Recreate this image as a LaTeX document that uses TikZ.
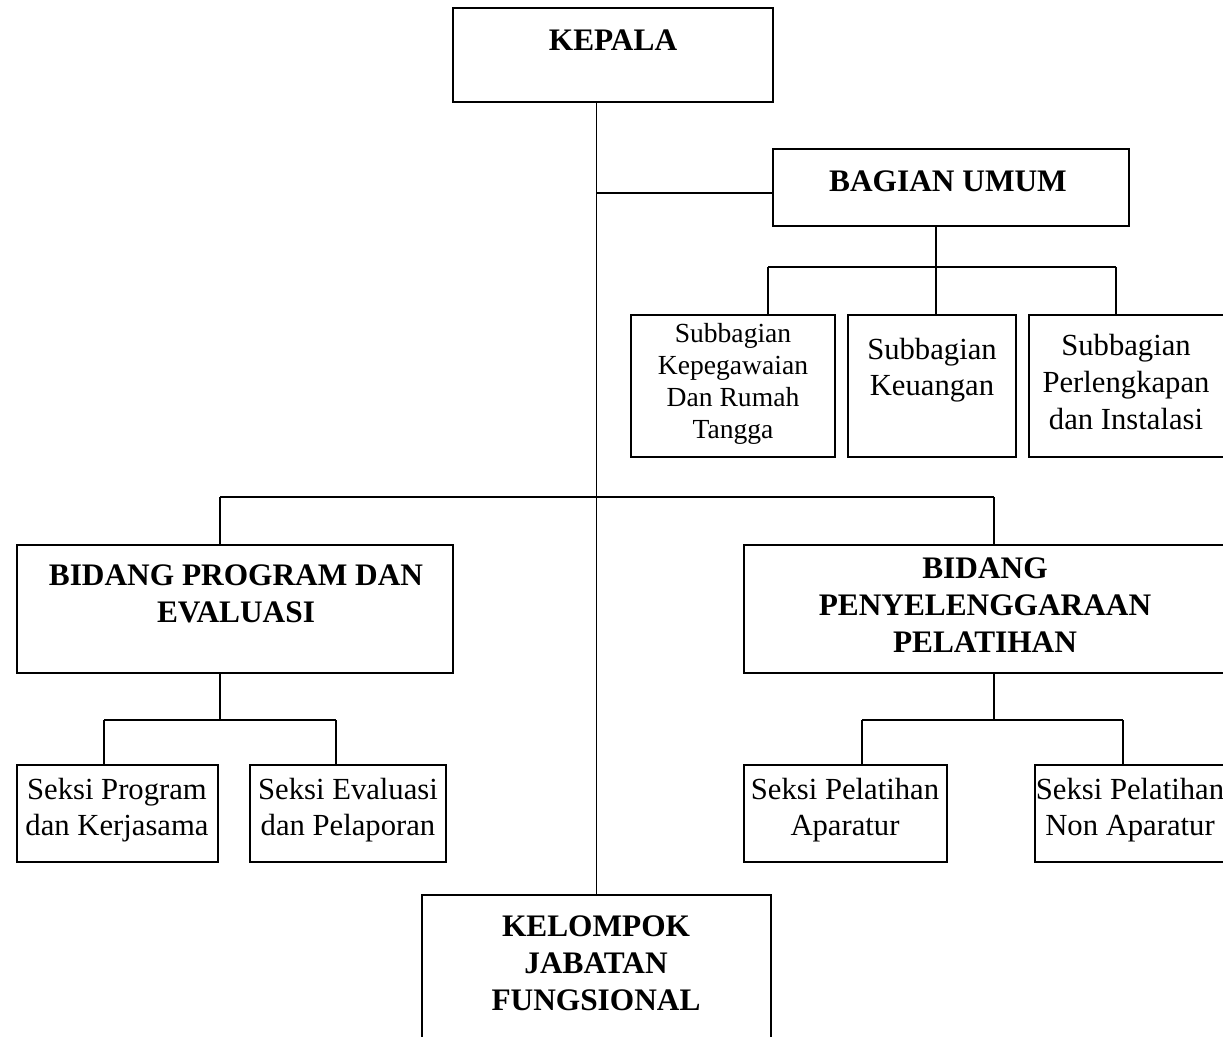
\documentclass[tikz,border=0pt]{standalone}
\usepackage{fontspec}
\setmainfont{Liberation Serif}
\usetikzlibrary{calc}
\tikzset{
  box/.style={draw, rectangle, inner sep=0pt, line width=1.4pt},
  conn/.style={line width=1.4pt},
  lbl/.style={align=center, inner sep=0pt, font=\fontsize{23}{27.4}\selectfont},
  lblsmall/.style={align=center, inner sep=0pt, font=\fontsize{20.7}{24}\selectfont},
  lblbold/.style={align=center, inner sep=0pt, font=\fontsize{23.5}{27.6}\selectfont\bfseries},
}
\begin{document}
\begin{tikzpicture}[x=0.75pt, y=-0.75pt]
\useasboundingbox (0,0) rectangle (1223,1037);
\clip (0,0) rectangle (1223,1037);
% boxes
\node[box, minimum width=320*0.75pt, minimum height=94*0.75pt] (kepala) at (613,55) {};
\node[box, minimum width=356*0.75pt, minimum height=77*0.75pt] (bagian) at (951,187.5) {};
\node[box, minimum width=204*0.75pt, minimum height=142*0.75pt] (sub1) at (733,386) {};
\node[box, minimum width=168*0.75pt, minimum height=142*0.75pt] (sub2) at (932,386) {};
\node[box, minimum width=197*0.75pt, minimum height=142*0.75pt] (sub3) at (1127.5,386) {};
\node[box, minimum width=436*0.75pt, minimum height=128*0.75pt] (bprog) at (235,609) {};
\node[box, minimum width=482*0.75pt, minimum height=128*0.75pt] (bpeny) at (985,609) {};
\node[box, minimum width=201*0.75pt, minimum height=97*0.75pt] (s1) at (117.5,813.5) {};
\node[box, minimum width=196*0.75pt, minimum height=97*0.75pt] (s2) at (348,813.5) {};
\node[box, minimum width=203*0.75pt, minimum height=97*0.75pt] (s3) at (845.5,813.5) {};
\node[box, minimum width=191*0.75pt, minimum height=97*0.75pt] (s4) at (1130.5,813.5) {};
\node[box, minimum width=349*0.75pt, minimum height=150*0.75pt] (kel) at (596.5,970) {};
% texts
\node[lblbold] (tkepala) at (613,40) {KEPALA};
\node[lblbold] (tbagian) at (948,181) {BAGIAN UMUM};
\node[lblsmall] (tsub1) at (733,384) {Subbagian\\Kepegawaian\\Dan Rumah\\Tangga};
\node[lbl] (tsub2) at (932,370) {Subbagian\\Keuangan};
\node[lbl] (tsub3) at (1126,382) {Subbagian\\Perlengkapan\\dan Instalasi};
\node[lblbold] (tbprog) at (236,594) {BIDANG PROGRAM DAN\\EVALUASI};
\node[lblbold] (tbpeny) at (985,605) {BIDANG\\PENYELENGGARAAN\\PELATIHAN};
\node[lbl] (ts1) at (117,810) {Seksi Program\\dan Kerjasama};
\node[lbl] (ts2) at (348,810) {Seksi Evaluasi\\dan Pelaporan};
\node[lbl] (ts3) at (845,810) {Seksi Pelatihan\\Aparatur};
\node[lbl] (ts4) at (1130,810) {Seksi Pelatihan\\Non Aparatur};
\node[lblbold] (tkel) at (596,963) {KELOMPOK\\JABATAN\\FUNGSIONAL};
% junction coordinates
\coordinate (jb) at (596,193);
\coordinate (ju) at (936,267);
\coordinate (d1) at (768,267);
\coordinate (d3) at (1116,267);
\coordinate (jm) at (596,497);
\coordinate (bl) at (220,497);
\coordinate (br) at (994,497);
\coordinate (jl) at (220,720);
\coordinate (e1) at (104,720);
\coordinate (e2) at (336,720);
\coordinate (jr) at (994,720);
\coordinate (f1) at (862,720);
\coordinate (f2) at (1123,720);
% connectors
\draw[conn] (kel.north) -- (kel.north |- kepala.south);
\draw[conn] (jb) -- (jb -| bagian.west);
\draw[conn] (ju |- bagian.south) -- (ju);
\draw[conn] (d1) -- (d3);
\draw[conn] (d1) -- (d1 |- sub1.north);
\draw[conn] (ju) -- (ju |- sub2.north);
\draw[conn] (d3) -- (d3 |- sub3.north);
\draw[conn] (bl) -- (br);
\draw[conn] (bl) -- (bl |- bprog.north);
\draw[conn] (br) -- (br |- bpeny.north);
\draw[conn] (jl |- bprog.south) -- (jl);
\draw[conn] (e1) -- (e2);
\draw[conn] (e1) -- (e1 |- s1.north);
\draw[conn] (e2) -- (e2 |- s2.north);
\draw[conn] (jr |- bpeny.south) -- (jr);
\draw[conn] (f1) -- (f2);
\draw[conn] (f1) -- (f1 |- s3.north);
\draw[conn] (f2) -- (f2 |- s4.north);
\end{tikzpicture}
\end{document}
